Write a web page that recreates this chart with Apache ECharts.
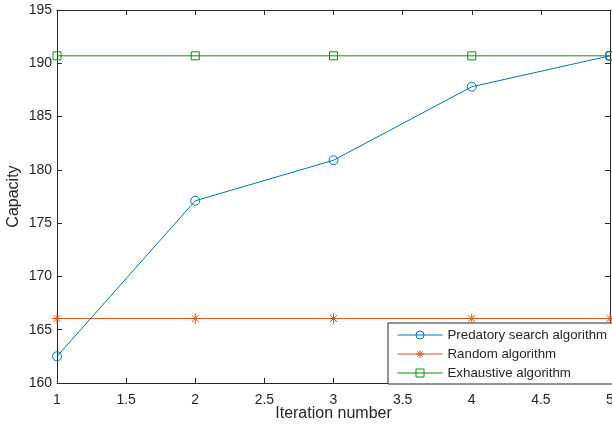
<!DOCTYPE html>
<html>
<head>
<meta charset="utf-8">
<script src="https://cdn.jsdelivr.net/npm/echarts@6/dist/echarts.min.js"></script>
<style>html,body{margin:0;padding:0;background:#fff}#c{width:612px;height:425px}</style>
</head>
<body>
<div id="c"></div>
<script>
var iterations = [1, 2, 3, 4, 5];
var predatory = [162.5, 177.1, 180.9, 187.8, 190.7];
var randomAlg = [166.05, 166.05, 166.05, 166.05, 166.05];
var exhaustive = [190.7, 190.7, 190.7, 190.7, 190.7];
var seriesNames = ['Predatory search algorithm', 'Random algorithm', 'Exhaustive algorithm'];

function pairs(vals) { return iterations.map(function (x, i) { return [x, vals[i]]; }); }

var txt = '#262626';
var font = 'Liberation Sans, Arial, sans-serif';
var star = 'path://M0,-5L0,5M-5,0L5,0M-3.5,-3.5L3.5,3.5M-3.5,3.5L3.5,-3.5';

var chart = echarts.init(document.getElementById('c'), null, {renderer: 'canvas'});
var axisCommon = {
  axisLine: {show: true, onZero: false, lineStyle: {color: '#262626', width: 1}},
  axisTick: {show: true, inside: true, length: 5, lineStyle: {color: '#262626', width: 1}},
  splitLine: {show: false}
};
chart.setOption({
  animation: false,
  backgroundColor: '#fff',
  grid: {left: 57, right: 2, top: 10, bottom: 42, containLabel: false, outerBoundsMode: 'none'},
  xAxis: [
    Object.assign({type: 'value', min: 1, max: 5, interval: 0.5, position: 'bottom',
      name: 'Iteration number', nameLocation: 'middle', nameGap: 23, nameMoveOverlap: false,
      nameTextStyle: {fontSize: 16, color: txt, fontFamily: font, verticalAlign: 'top'},
      axisLabel: {fontSize: 14, color: txt, fontFamily: font, margin: 10}}, axisCommon),
    Object.assign({type: 'value', min: 1, max: 5, interval: 0.5, position: 'top',
      axisLabel: {show: false}}, axisCommon)
  ],
  yAxis: [
    Object.assign({type: 'value', min: 160, max: 195, interval: 5, position: 'left',
      name: 'Capacity', nameLocation: 'middle', nameGap: 43, nameRotate: 90, nameMoveOverlap: false,
      nameTextStyle: {fontSize: 16, color: txt, fontFamily: font, verticalAlign: 'middle'},
      axisLabel: {fontSize: 14, color: txt, fontFamily: font, margin: 5}}, axisCommon),
    Object.assign({type: 'value', min: 160, max: 195, interval: 5, position: 'right',
      axisLabel: {show: false}}, axisCommon)
  ],
  legend: {
    left: 388, top: 323, orient: 'vertical',
    backgroundColor: '#fff', borderColor: '#262626', borderWidth: 1, borderRadius: 0,
    padding: [5, 10, 4, 9], itemGap: 5, itemWidth: 45, itemHeight: 10,
    lineStyle: {width: 1}, itemStyle: {borderWidth: 1},
    textStyle: {fontSize: 13.3, color: txt, fontFamily: font, lineHeight: 14},
    data: seriesNames
  },
  series: [
    {name: seriesNames[0], type: 'line', data: pairs(predatory), symbol: 'circle', symbolSize: 9,
      lineStyle: {color: '#0072BD', width: 1}, itemStyle: {color: 'rgba(255,255,255,0)', borderColor: '#0072BD', borderWidth: 1},
      z: 5},
    {name: seriesNames[1], type: 'line', data: pairs(randomAlg), symbol: star, symbolSize: 10,
      lineStyle: {color: '#D95319', width: 1}, itemStyle: {color: '#D95319', borderColor: '#D95319', borderWidth: 1},
      z: 4},
    {name: seriesNames[2], type: 'line', data: pairs(exhaustive), symbol: 'rect', symbolSize: 8,
      lineStyle: {color: '#118A11', width: 1}, itemStyle: {color: 'rgba(255,255,255,0)', borderColor: '#118A11', borderWidth: 1},
      z: 3}
  ]
});
</script>
</body>
</html>
